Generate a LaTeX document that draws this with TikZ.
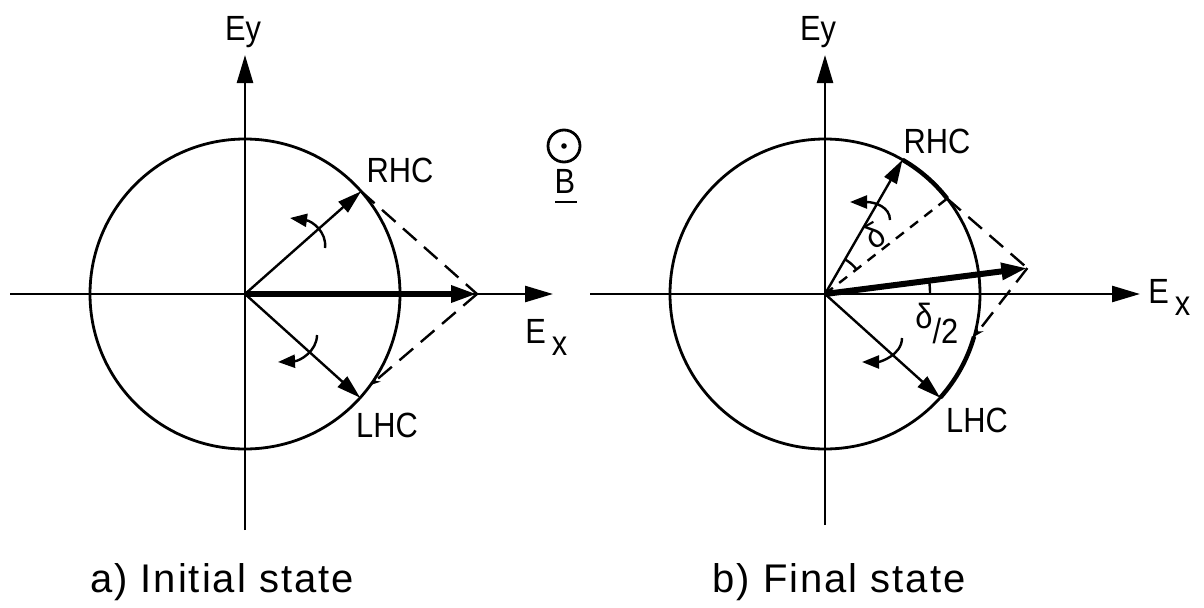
\documentclass[tikz,border=0pt]{standalone}
\usepackage{fontspec}
\setmainfont{Liberation Sans}[FakeStretch=0.88]
\newfontfamily\capfont{Liberation Sans}[LetterSpace=5]
\usetikzlibrary{arrows.meta,calc}
\begin{document}
\begin{tikzpicture}[x=0.5pt,y=0.5pt,
  lbl/.style={inner sep=0pt,font=\fontsize{17.5}{20}\selectfont},
  caplbl/.style={inner sep=0pt,font=\capfont\fontsize{20}{24}\selectfont},
  axisline/.style={line width=1.25pt,-{Triangle[length=14pt,width=8pt]}},
  vecline/.style={line width=1.2pt,-{Triangle[length=12pt,width=7pt]}},
  sumline/.style={line width=3pt,-{Triangle[length=13pt,width=8pt]}},
  rotline/.style={line width=1.2pt,-{Triangle[length=8.5pt,width=6.5pt]}},
  circ/.style={line width=1.4pt},
  longdash/.style={line width=1.2pt,dash pattern=on 9pt off 5pt},
  shortdash/.style={line width=1.2pt,dash pattern=on 5pt off 4pt},
  barb/.style={-{Stealth[length=5pt,width=4pt]}},
  thickarc/.style={line width=2.2pt}]
\useasboundingbox (0,0) rectangle (1204,607);
% ---------- panel a ----------
\coordinate (O1) at (245,313);
\coordinate (XA1) at (10,313);
\coordinate (XB1) at (553,313);
\coordinate (YA1) at (245,77);
\coordinate (YB1) at (245,552);
\coordinate (R1) at ($(O1)+(41.5:155)$);
\coordinate (L1) at ($(O1)+(-42:155)$);
\coordinate (S1) at (477,313);
\coordinate (Q1) at ($(O1)+(-36:155)$);
\draw[axisline] (XA1) -- (XB1);
\draw[axisline] (YA1) -- (YB1);
\draw[circ] (O1) circle[radius=155];
\draw[vecline] (O1) -- (R1);
\draw[vecline] (O1) -- (L1);
\draw[sumline] (O1) -- (S1);
\draw[longdash] (R1) -- (S1);
\draw[longdash,barb] (S1) -- (Q1);
\coordinate (ra1) at (325,359);
\coordinate (rb1) at (290,389);
\draw[rotline] (ra1) .. controls (327,375) and (312,386) .. (rb1);
\coordinate (la1) at (317,272);
\coordinate (lb1) at (278,245);
\draw[rotline] (la1) .. controls (317,256) and (300,246) .. (lb1);
\node[lbl,anchor=base] (ey1) at (243,567) {Ey};
\node[lbl,anchor=base west] (ex1) at (525,264) {E\hspace{3pt}\raisebox{-6pt}{x}};
\node[lbl,anchor=base] (rhc1) at (400,425) {RHC};
\node[lbl,anchor=base] (lhc1) at (387,170) {LHC};
\node[caplbl,anchor=base] (capa) at (222,15) {a) Initial state};
% ---------- B field ----------
\node[circle,draw,line width=1.4pt,minimum size=16pt,inner sep=0pt] (bdot) at (564,461) {};
\fill (bdot.center) circle[radius=2.8];
\node[lbl,anchor=base] (bl) at (565,414) {B};
\coordinate (ua) at (555,405);
\coordinate (ub) at (577,405);
\draw[line width=1.2pt] (ua) -- (ub);
% ---------- panel b ----------
\coordinate (O2) at (825,313);
\coordinate (XA2) at (590,313);
\coordinate (XB2) at (1140,313);
\coordinate (YA2) at (825,82);
\coordinate (YB2) at (825,552);
\coordinate (R2) at ($(O2)+(60:155)$);
\coordinate (L2) at ($(O2)+(-42:155)$);
\coordinate (D2) at ($(O2)+(38:155)$);
\coordinate (S2) at ($(O2)+(7.3:204)$);
\coordinate (E2) at ($(O2)+(-16:155)$);
\coordinate (A2) at ($(O2)+(38:40)$);
\coordinate (T2) at ($(O2)+(0:105)$);
\draw[axisline] (XA2) -- (XB2);
\draw[axisline] (YA2) -- (YB2);
\draw[circ] (O2) circle[radius=155];
\draw[thickarc] (R2) arc[start angle=60,end angle=38,radius=155];
\draw[thickarc] (E2) arc[start angle=-16,end angle=-42,radius=155];
\draw[vecline] (O2) -- (R2);
\draw[vecline] (O2) -- (L2);
\draw[shortdash] (O2) -- (D2);
\draw[sumline] (O2) -- (S2);
\draw[longdash] (D2) -- (S2);
\draw[longdash,barb] (S2) -- (E2);
\draw[line width=1.2pt] (A2) arc[start angle=38,end angle=60,radius=40];
\draw[line width=1.2pt] (T2) arc[start angle=0,end angle=7.3,radius=105];
\coordinate (ra2) at (890,387);
\coordinate (rb2) at (850,405);
\draw[rotline] (ra2) .. controls (890,400) and (875,405) .. (rb2);
\coordinate (la2) at (902,269);
\coordinate (lb2) at (862,245);
\draw[rotline] (la2) .. controls (902,252) and (880,245) .. (lb2);
\node[lbl,anchor=base] (ey2) at (818,567) {Ey};
\node[lbl,anchor=base west] (ex2) at (1148,304) {E\hspace{3pt}\raisebox{-6pt}{x}};
\node[lbl,anchor=base] (rhc2) at (937,454) {RHC};
\node[lbl,anchor=base] (lhc2) at (977,175) {LHC};
\node[lbl,rotate=30] (dl) at (875,372) {δ};
\node[lbl,anchor=base west] (dh) at (915,279) {δ\raisebox{-7.5pt}{/2}};
\node[caplbl,anchor=base] (capb) at (839,15) {b) Final state};
\end{tikzpicture}
\end{document}
